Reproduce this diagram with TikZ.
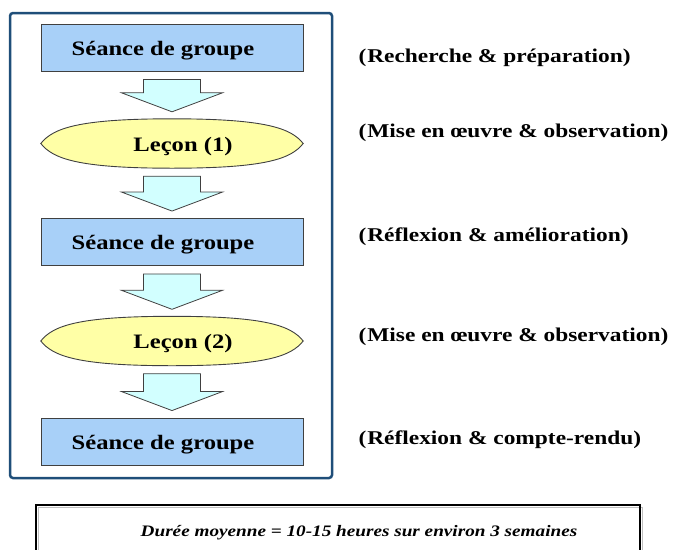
\documentclass[tikz,border=0pt]{standalone}
\usepackage{fontspec}
\setmainfont{Liberation Serif}[FakeStretch=1.2]
\usepackage{xcolor}
\usetikzlibrary{positioning, calc, backgrounds}

\definecolor{boxblue}{HTML}{A8D0F8}
\definecolor{lesyellow}{HTML}{FFFFA6}
\definecolor{arrcyan}{HTML}{D2FFFF}
\definecolor{outgray}{HTML}{404040}
\definecolor{frameblue}{HTML}{1F4E79}

\tikzset{
  grpbox/.style={draw=outgray, fill=boxblue, line width=0.9pt, minimum width=262pt, minimum height=47pt, inner sep=0pt},
  lesnode/.style={minimum width=262pt, minimum height=49pt, inner sep=0pt},
  lensline/.style={draw=outgray, fill=lesyellow, line width=0.9pt},
  boxtext/.style={font=\fontsize{20.5}{24}\selectfont\bfseries, yshift=-3pt},
  sidetext/.style={anchor=west, font=\fontsize{19.5}{23}\selectfont\bfseries},
  blockarr/.style={draw=outgray, fill=arrcyan, line width=0.8pt, line join=miter},
}

\begin{document}
\begin{tikzpicture}[x=1pt, y=-1pt]
        \useasboundingbox (0,0) rectangle (674,549);

        % Outer frame
        \draw[line width=2.5pt, frameblue, rounded corners=3pt] (10,13) rectangle (332,478);

        % Steps of the cycle
        \node[grpbox, label={[boxtext, xshift=-9pt]center:Séance de groupe}] (grp1) at (172,47.5) {};
        \node[lesnode, label={[boxtext, xshift=11pt]center:Leçon (1)}] (les1) at (172,143.5) {};
        \node[grpbox, label={[boxtext, xshift=-9pt]center:Séance de groupe}] (grp2) at (172,242) {};
        \node[lesnode, label={[boxtext, xshift=11pt]center:Leçon (2)}] (les2) at (172,341) {};
        \node[grpbox, label={[boxtext, xshift=-9pt]center:Séance de groupe}] (grp3) at (172,441.5) {};

        % Lens shapes behind the lessons
        \begin{scope}[on background layer]
          \foreach \n in {les1, les2} {
            \draw[lensline] (\n.west)
              .. controls ($(\n.west)+(12,-15)$) and ($(\n.north)+(-95,0)$) .. (\n.north)
              .. controls ($(\n.north)+(95,0)$) and ($(\n.east)+(-12,-15)$) .. (\n.east)
              .. controls ($(\n.east)+(-12,15)$) and ($(\n.south)+(95,0)$) .. (\n.south)
              .. controls ($(\n.south)+(-95,0)$) and ($(\n.west)+(12,15)$) .. (\n.west) -- cycle;
          }
        \end{scope}

        % Block arrows between steps
        \foreach \a/\b in {grp1/les1, les1/grp2, grp2/les2, les2/grp3} {
          \draw[blockarr] ($(\a.south)+(-28.5,8)$) -- ($(\a.south)+(28.5,8)$)
            -- ($(\b.north)+(28.5,-26)$) -- ($(\b.north)+(50.5,-26)$)
            -- ($(\b.north)+(0,-7)$)
            -- ($(\b.north)+(-50.5,-26)$) -- ($(\b.north)+(-28.5,-26)$) -- cycle;
        }

        % Side notes
        \node[sidetext] (note1) at (355,58) {(\kern1pt Recherche \& préparation)};
        \node[sidetext] (note2) at (355,133) {(\kern1pt Mise en œuvre \& observation)};
        \node[sidetext] (note3) at (355,237) {(\kern1pt Réflexion \& amélioration)};
        \node[sidetext] (note4) at (355,337) {(\kern1pt Mise en œuvre \& observation)};
        \node[sidetext] (note5) at (355,440) {(\kern1pt Réflexion \& compte-rendu)};

        % Duration box
        \draw[gray!50, line width=1.5pt] (38.5,507.5) rectangle (642.5,562);
        \draw[line width=1.5pt] (36,505) rectangle (640,560);
        \node[font=\fontsize{16}{19}\selectfont\bfseries\itshape] (duree) at (359,533) {Durée moyenne = 10-15 heures sur environ 3 semaines};
      \end{tikzpicture}
\end{document}
